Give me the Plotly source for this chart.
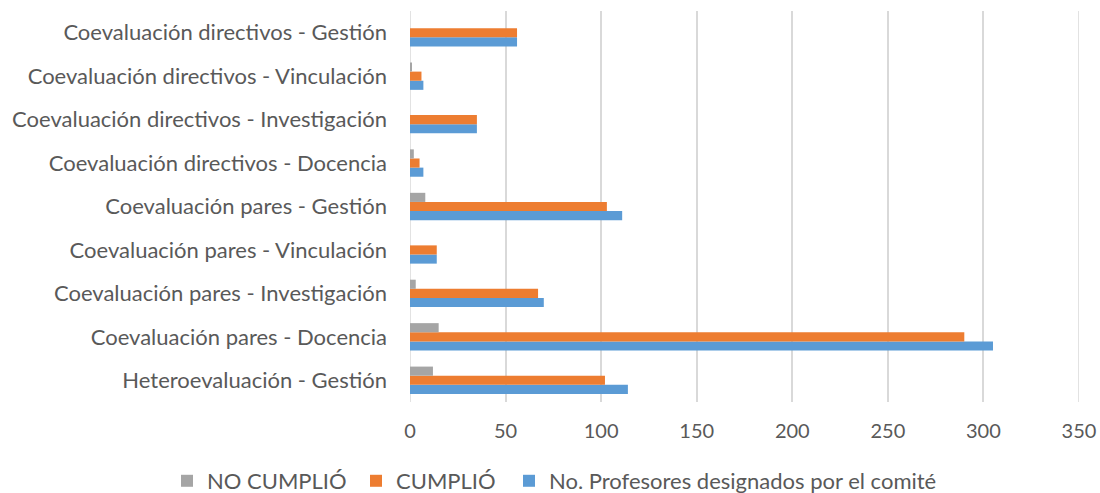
import plotly.graph_objects as go

categories = [
    "Heteroevaluación - Gestión",
    "Coevaluación pares - Docencia",
    "Coevaluación pares - Investigación",
    "Coevaluación pares - Vinculación",
    "Coevaluación pares - Gestión",
    "Coevaluación directivos - Docencia",
    "Coevaluación directivos - Investigación",
    "Coevaluación directivos - Vinculación",
    "Coevaluación directivos - Gestión",
]
no_cumplio = [12, 15, 3, 0, 8, 2, 0, 1, 0]
cumplio = [102, 290, 67, 14, 103, 5, 35, 6, 56]
designados = [114, 305, 70, 14, 111, 7, 35, 7, 56]
x_ticks = [0, 50, 100, 150, 200, 250, 300, 350]

FONT = "Lato"
TXT = "#595959"
FS = 22
GRID = "#D9D9D9"

fig = go.Figure()
fig.add_trace(go.Bar(y=categories, x=designados, orientation="h",
                     name="No. Profesores designados por el comité",
                     legend="legend3",
                     marker=dict(color="#5B9BD5", line=dict(width=0))))
fig.add_trace(go.Bar(y=categories, x=cumplio, orientation="h",
                     name="CUMPLIÓ", legend="legend2",
                     marker=dict(color="#ED7D31", line=dict(width=0))))
fig.add_trace(go.Bar(y=categories, x=no_cumplio, orientation="h",
                     name="NO CUMPLIÓ", legend="legend",
                     marker=dict(color="#A5A5A5", line=dict(width=0))))

leg_common = dict(orientation="h", xanchor="left", yanchor="middle",
                  y=-0.202, font=dict(size=FS, color=TXT, family=FONT),
                  itemwidth=30, bgcolor="rgba(0,0,0,0)")

fig.update_layout(
    width=1100, height=493,
    barmode="group", bargap=0.37, bargroupgap=0,
    paper_bgcolor="white", plot_bgcolor="white",
    margin=dict(l=410, r=21, t=11, b=91, autoexpand=False),
    font=dict(family=FONT, size=FS, color=TXT),
    xaxis=dict(range=[0, 350], tickvals=x_ticks, showgrid=True,
               gridcolor=GRID, gridwidth=1.5, zeroline=False,
               showline=False, ticks="", ticklabelstandoff=15,
               tickfont=dict(size=20, color=TXT)),
    yaxis=dict(showgrid=False, showline=False, ticks="",
               ticklabelstandoff=22,
               tickfont=dict(size=FS, color=TXT), zeroline=False),
    legend=dict(leg_common, x=-0.3632),
    legend2=dict(leg_common, x=-0.0807),
    legend3=dict(leg_common, x=0.148),
    showlegend=True,
)
for xv in (x_ticks[0], x_ticks[-1]):
    fig.add_vline(x=xv, line_color=GRID, line_width=1.5, layer="below")

fig.write_html(
    "out.html",
    config={"displayModeBar": False},
    post_script="document.body.style.margin='0';document.body.style.overflow='hidden';",
)
